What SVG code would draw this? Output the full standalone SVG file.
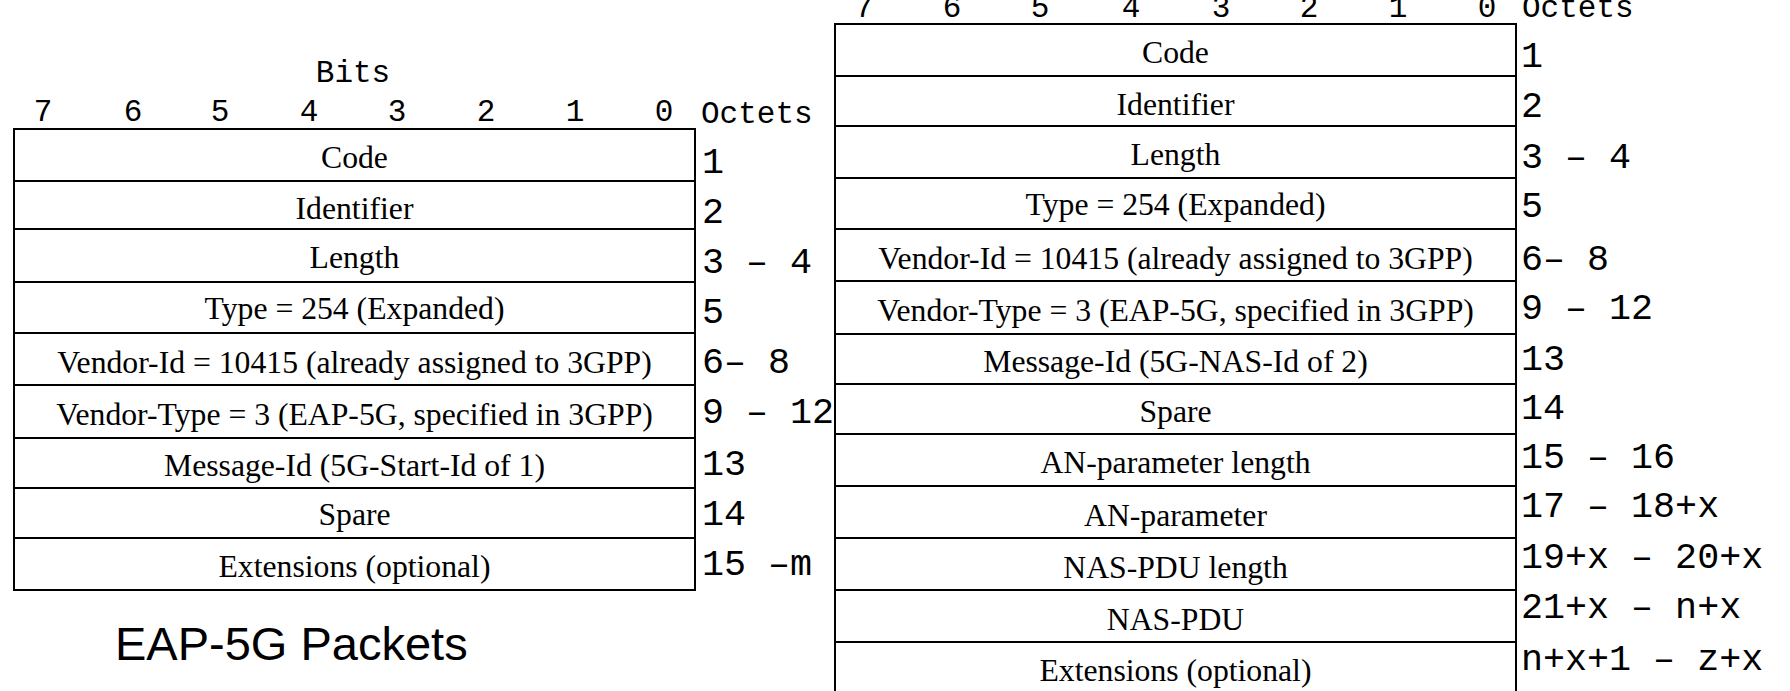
<svg xmlns="http://www.w3.org/2000/svg" width="1790" height="691" viewBox="0 0 1790 691">
<style>
.cell{fill:#fff;stroke:#000;stroke-width:2}
.f{font-family:"Liberation Serif","Times New Roman",serif;font-size:31.7px;fill:#000;text-anchor:middle}
.m{font-family:"Liberation Mono","Courier New",monospace;font-size:31px;fill:#000}
.mc{font-family:"Liberation Mono","Courier New",monospace;font-size:31px;fill:#000;text-anchor:middle}
.o{font-family:"Liberation Mono","Courier New",monospace;font-size:36.7px;fill:#000;white-space:pre}
.t{font-family:"Liberation Sans",Arial,sans-serif;font-size:47px;fill:#000}
</style>
<rect width="1790" height="691" fill="#fff"/>
<g id="left-header">
<text class="mc" x="353" y="82">Bits</text>
<text class="mc" y="121"><tspan x="43">7</tspan><tspan x="133">6</tspan><tspan x="220">5</tspan><tspan x="309">4</tspan><tspan x="397">3</tspan><tspan x="486">2</tspan><tspan x="575">1</tspan><tspan x="664">0</tspan></text>
<text class="m" x="701" y="123">Octets</text>
</g>
<g id="left-table">
<g id="l1"><rect class="cell" x="14" y="129" width="681" height="52"/><text class="f" x="354.5" y="168">Code</text><text class="o" x="702" y="173">1</text></g>
<g id="l2"><rect class="cell" x="14" y="181" width="681" height="48"/><text class="f" x="354.5" y="219">Identifier</text><text class="o" x="702" y="223">2</text></g>
<g id="l3"><rect class="cell" x="14" y="229" width="681" height="53"/><text class="f" x="354.5" y="268">Length</text><text class="o" x="702" y="273">3 – 4</text></g>
<g id="l4"><rect class="cell" x="14" y="282" width="681" height="51"/><text class="f" x="354.5" y="319">Type = 254 (Expanded)</text><text class="o" x="702" y="323">5</text></g>
<g id="l5"><rect class="cell" x="14" y="333" width="681" height="52"/><text class="f" x="354.5" y="373">Vendor-Id = 10415 (already assigned to 3GPP)</text><text class="o" x="702" y="373">6– 8</text></g>
<g id="l6"><rect class="cell" x="14" y="385" width="681" height="53"/><text class="f" x="354.5" y="425">Vendor-Type = 3 (EAP-5G, specified in 3GPP)</text><text class="o" x="702" y="423">9 – 12</text></g>
<g id="l7"><rect class="cell" x="14" y="438" width="681" height="50"/><text class="f" x="354.5" y="476">Message-Id (5G-Start-Id of 1)</text><text class="o" x="702" y="475">13</text></g>
<g id="l8"><rect class="cell" x="14" y="488" width="681" height="50"/><text class="f" x="354.5" y="525">Spare</text><text class="o" x="702" y="525">14</text></g>
<g id="l9"><rect class="cell" x="14" y="538" width="681" height="52"/><text class="f" x="354.5" y="577">Extensions (optional)</text><text class="o" x="702" y="575">15 –m</text></g>
</g>
<text class="t" x="115" y="660">EAP-5G Packets</text>
<g id="right-header">
<text class="mc" y="17"><tspan x="864">7</tspan><tspan x="952">6</tspan><tspan x="1040">5</tspan><tspan x="1131">4</tspan><tspan x="1221">3</tspan><tspan x="1309">2</tspan><tspan x="1398">1</tspan><tspan x="1487">0</tspan></text>
<text class="m" x="1522" y="17">Octets</text>
</g>
<g id="right-table">
<g id="r1"><rect class="cell" x="835" y="24" width="681" height="52"/><text class="f" x="1175.5" y="63">Code</text><text class="o" x="1521" y="67">1</text></g>
<g id="r2"><rect class="cell" x="835" y="76" width="681" height="50"/><text class="f" x="1175.5" y="115">Identifier</text><text class="o" x="1521" y="117">2</text></g>
<g id="r3"><rect class="cell" x="835" y="126" width="681" height="52"/><text class="f" x="1175.5" y="165">Length</text><text class="o" x="1521" y="168">3 – 4</text></g>
<g id="r4"><rect class="cell" x="835" y="178" width="681" height="51"/><text class="f" x="1175.5" y="215">Type = 254 (Expanded)</text><text class="o" x="1521" y="217">5</text></g>
<g id="r5"><rect class="cell" x="835" y="229" width="681" height="52"/><text class="f" x="1175.5" y="269">Vendor-Id = 10415 (already assigned to 3GPP)</text><text class="o" x="1521" y="270">6– 8</text></g>
<g id="r6"><rect class="cell" x="835" y="281" width="681" height="53"/><text class="f" x="1175.5" y="321">Vendor-Type = 3 (EAP-5G, specified in 3GPP)</text><text class="o" x="1521" y="319">9 – 12</text></g>
<g id="r7"><rect class="cell" x="835" y="334" width="681" height="50"/><text class="f" x="1175.5" y="372">Message-Id (5G-NAS-Id of 2)</text><text class="o" x="1521" y="370">13</text></g>
<g id="r8"><rect class="cell" x="835" y="384" width="681" height="50"/><text class="f" x="1175.5" y="422">Spare</text><text class="o" x="1521" y="419">14</text></g>
<g id="r9"><rect class="cell" x="835" y="434" width="681" height="52"/><text class="f" x="1175.5" y="473">AN-parameter length</text><text class="o" x="1521" y="468">15 – 16</text></g>
<g id="r10"><rect class="cell" x="835" y="486" width="681" height="52"/><text class="f" x="1175.5" y="526">AN-parameter</text><text class="o" x="1521" y="517">17 – 18+x</text></g>
<g id="r11"><rect class="cell" x="835" y="538" width="681" height="52"/><text class="f" x="1175.5" y="578">NAS-PDU length</text><text class="o" x="1521" y="568">19+x – 20+x</text></g>
<g id="r12"><rect class="cell" x="835" y="590" width="681" height="52"/><text class="f" x="1175.5" y="630">NAS-PDU</text><text class="o" x="1521" y="618">21+x – n+x</text></g>
<g id="r13"><rect class="cell" x="835" y="642" width="681" height="52"/><text class="f" x="1175.5" y="681">Extensions (optional)</text><text class="o" x="1521" y="670">n+x+1 – z+x</text></g>
</g>
<g id="connectors"/>
</svg>
